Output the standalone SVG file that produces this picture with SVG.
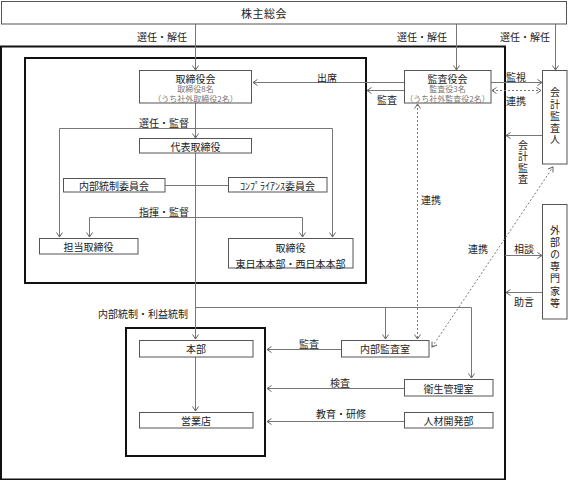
<svg xmlns="http://www.w3.org/2000/svg" width="568" height="480" viewBox="0 0 568 480">
<defs>
<marker id="ar" viewBox="0 0 6 8" refX="5" refY="4" markerWidth="6" markerHeight="8" markerUnits="userSpaceOnUse" orient="auto-start-reverse">
<path d="M0.5,1 L5,4 L0.5,7" fill="none" stroke="#666" stroke-width="1"/>
</marker>
</defs>
<style>
text{font-family:"Noto Sans CJK JP","Noto Sans CJK SC",sans-serif;font-size:10px;fill:#222;dominant-baseline:central}
.m{text-anchor:middle}
.e{text-anchor:end}
.s{font-size:8px;fill:#777}
.v{writing-mode:vertical-rl;text-orientation:upright;text-anchor:middle}
.n{fill:#fff;stroke:#555;stroke-width:1}
.b{fill:none;stroke:#111;stroke-width:2}
.c path{fill:none;stroke:#777;stroke-width:1}
.c .a{marker-end:url(#ar)}
.c .d{stroke-dasharray:2,2;marker-start:url(#ar);marker-end:url(#ar)}
</style>
<rect width="568" height="480" fill="#fff"/>

<g id="frames">
<rect class="b" x="1" y="46.5" width="504" height="433"/>
<rect class="b" x="25" y="58" width="341" height="225"/>
<rect class="b" x="126" y="328" width="139" height="128"/>
</g>

<g class="c" id="connectors">
<path class="a" d="M195.5,24 V70"/>
<path class="a" d="M456.5,24 V70"/>
<path class="a" d="M555.5,24 V70"/>
<path class="a" d="M404,82.5 H253"/>
<path class="a" d="M404,90.5 H367"/>
<path class="a" d="M491,82.5 H542"/>
<path class="d" d="M492,90.5 H541"/>
<path class="a" d="M542,135.5 H506"/>
<path class="a" d="M505,255.5 H542"/>
<path class="a" d="M542,292.5 H506"/>
<path class="d" d="M417.5,104 V339"/>
<path class="d" d="M432,347 L553,167"/>
<path class="a" d="M195.5,103 V138"/>
<path class="a" d="M59.5,128.5 V237"/>
<path class="a" d="M59.5,128.5 H332.5 V237"/>
<path class="a" d="M89.5,217.5 V237"/>
<path class="a" d="M89.5,217.5 H302.5 V237"/>
<path class="a" d="M195.5,153 V339"/>
<path d="M165,185.5 H228"/>
<path class="a" d="M195.5,307.5 H471.5 V378"/>
<path class="a" d="M385.5,307.5 V339"/>
<path class="a" d="M195.5,357 V411"/>
<path class="a" d="M341,349.5 H267"/>
<path class="a" d="M404,388.5 H267"/>
<path class="a" d="M404,421.5 H267"/>
</g>

<g id="n-shareholders">
<rect class="n" x="1.5" y="1.5" width="565" height="22.5"/>
<text class="m" x="264" y="13" style="font-size:11px;letter-spacing:0.5px">株主総会</text>
</g>

<g id="labels-top">
<text class="e" x="187" y="36">選任・解任</text>
<text class="e" x="447" y="36">選任・解任</text>
<text class="e" x="550" y="36">選任・解任</text>
</g>

<g id="n-board">
<rect class="n" x="139.5" y="70.5" width="112" height="32.5"/>
<text class="m" x="195.5" y="78">取締役会<tspan class="s" x="195.5" y="88">取締役8名</tspan><tspan class="s" x="195.5" y="97.5">（うち社外取締役2名）</tspan></text>
</g>

<g id="n-auditboard">
<rect class="n" x="404.5" y="70.5" width="86.5" height="32.5"/>
<text class="m" x="447.5" y="78">監査役会<tspan class="s" x="447.5" y="88">監査役3名</tspan><tspan class="s" x="447.5" y="97.5">（うち社外監査役2名）</tspan></text>
</g>

<g id="n-accountant">
<rect class="n" x="542.5" y="70.5" width="24.5" height="93.5"/>
<text class="v" x="555" y="117" style="letter-spacing:1.75px">会計監査人</text>
</g>

<g id="n-experts">
<rect class="n" x="542.5" y="204.5" width="24.5" height="114.5"/>
<text class="v" x="555" y="267.5" style="letter-spacing:2.2px">外部の専門家等</text>
</g>

<g id="labels-conn">
<text class="m" x="327" y="77">出席</text>
<text class="m" x="387" y="99">監査</text>
<text class="m" x="516" y="76">監視</text>
<text class="m" x="516" y="100">連携</text>
<text class="v" x="523" y="163" style="letter-spacing:1.5px">会計監査</text>
<text class="m" x="524" y="248">相談</text>
<text class="m" x="524" y="301">助言</text>
<text class="m" x="431" y="199">連携</text>
<text class="m" x="478" y="248">連携</text>
<text class="m" x="164" y="122">選任・監督</text>
<text class="m" x="164" y="211">指揮・監督</text>
<text class="e" x="188" y="313">内部統制・利益統制</text>
<text class="m" x="309" y="343">監査</text>
<text class="m" x="340" y="382">検査</text>
<text class="m" x="341" y="413">教育・研修</text>
</g>

<g id="n-president">
<rect class="n" x="139.5" y="138.5" width="112" height="14.5"/>
<text class="m" x="195.5" y="146">代表取締役</text>
</g>

<g id="n-icc">
<rect class="n" x="63.5" y="178.5" width="101.5" height="13.5"/>
<text class="m" x="114" y="185.5">内部統制委員会</text>
</g>

<g id="n-compliance">
<rect class="n" x="228.5" y="177.5" width="98.5" height="14.5"/>
<text class="m" x="277.5" y="185">ｺﾝﾌﾟﾗｲｱﾝｽ委員会</text>
</g>

<g id="n-incharge">
<rect class="n" x="39.5" y="238.5" width="98.5" height="15.5"/>
<text class="m" x="88.5" y="246">担当取締役</text>
</g>

<g id="n-directors">
<rect class="n" x="228.5" y="238.5" width="124.5" height="29.5"/>
<text class="m" x="290.5" y="247">取締役<tspan x="290.5" y="262.5">東日本本部・西日本本部</tspan></text>
</g>

<g id="n-hq">
<rect class="n" x="139.5" y="340.5" width="113.5" height="16.5"/>
<text class="m" x="196" y="348.5">本部</text>
</g>

<g id="n-branch">
<rect class="n" x="139.5" y="412.5" width="113.5" height="15.5"/>
<text class="m" x="196" y="420">営業店</text>
</g>

<g id="n-audit">
<rect class="n" x="341.5" y="340.5" width="87.5" height="16.5"/>
<text class="m" x="385" y="348.5">内部監査室</text>
</g>

<g id="n-hygiene">
<rect class="n" x="404.5" y="379.5" width="88.5" height="16.5"/>
<text class="m" x="448.5" y="388">衛生管理室</text>
</g>

<g id="n-hr">
<rect class="n" x="404.5" y="412.5" width="88.5" height="15.5"/>
<text class="m" x="448.5" y="420">人材開発部</text>
</g>
</svg>
